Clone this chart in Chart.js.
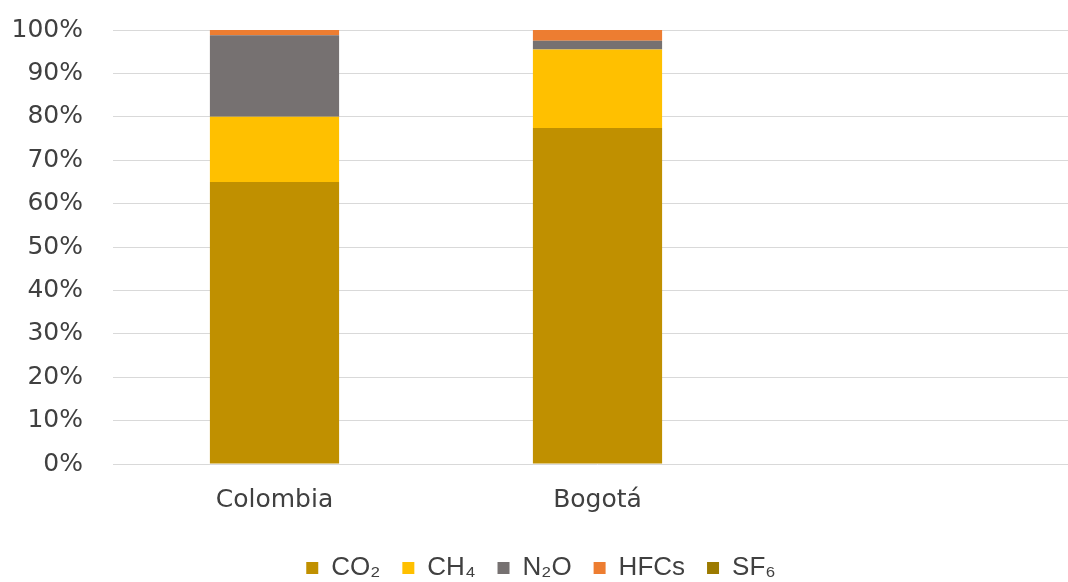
<!DOCTYPE html>
<html>
<head>
<meta charset="utf-8">
<script src="https://cdn.jsdelivr.net/npm/chart.js@4"></script>
<style>
  html, body { margin: 0; padding: 0; background: #fff; overflow: hidden; }
  #wrap { width: 1068px; height: 582px; overflow: hidden; position: relative; }
  #box { width: 1142px; height: 582px; position: absolute; left: 0; top: 0; }
</style>
</head>
<body>
<div id="wrap"><div id="box"><canvas id="c"></canvas></div></div>
<script>
const categories = ['Colombia', 'Bogotá', ''];
const seriesNames = ['CO₂', 'CH₄', 'N₂O', 'HFCs', 'SF₆'];
const co2  = [65.0, 77.4, null];
const ch4  = [15.0, 18.1, null];
const n2o  = [18.8, 2.0, null];
const hfcs = [1.2, 2.5, null];
const sf6  = [0.0, 0.0, null];
const yTicks = [0, 10, 20, 30, 40, 50, 60, 70, 80, 90, 100];
const colors = ['#C09000', '#FFC000', '#767171', '#ED7D31', '#9C7A00'];

const seriesData = [co2, ch4, n2o, hfcs, sf6];
const datasets = seriesNames.map((name, i) => ({
  label: name,
  data: seriesData[i],
  backgroundColor: colors[i],
  borderWidth: 0,
  categoryPercentage: 0.4,
  barPercentage: 1.0
}));

new Chart(document.getElementById('c'), {
  type: 'bar',
  data: { labels: categories, datasets },
  options: {
    responsive: true,
    maintainAspectRatio: false,
    animation: false,
    layout: { padding: { top: 30, right: 60, left: 0, bottom: -9 } },
    plugins: {
      tooltip: { enabled: false },
      legend: {
        position: 'bottom',
        labels: {
          boxWidth: 12,
          boxHeight: 12,
          padding: 22,
          color: '#404040',
          font: { family: '"Liberation Sans", Arial, sans-serif', size: 26 }
        }
      }
    },
    scales: {
      x: {
        stacked: true,
        grid: { display: false, drawTicks: false },
        border: { display: false },
        ticks: {
          color: '#404040',
          padding: 21,
          font: { family: '"DejaVu Sans", Verdana, sans-serif', size: 25 }
        },
        afterFit: (s) => { s.height = 69; }
      },
      y: {
        stacked: true,
        min: 0,
        max: 100,
        afterBuildTicks: (s) => { s.ticks = yTicks.map(v => ({ value: v })); },
        grid: { color: '#D9D9D9', lineWidth: 1, drawTicks: false },
        border: { display: false },
        ticks: {
          color: '#404040',
          padding: 30,
          font: { family: '"DejaVu Sans", Verdana, sans-serif', size: 25 },
          callback: (v) => v + '%'
        },
        afterFit: (s) => { s.width = 113; s.paddingTop = 0; s.paddingBottom = 0; }
      }
    }
  }
});
</script>
</body>
</html>
